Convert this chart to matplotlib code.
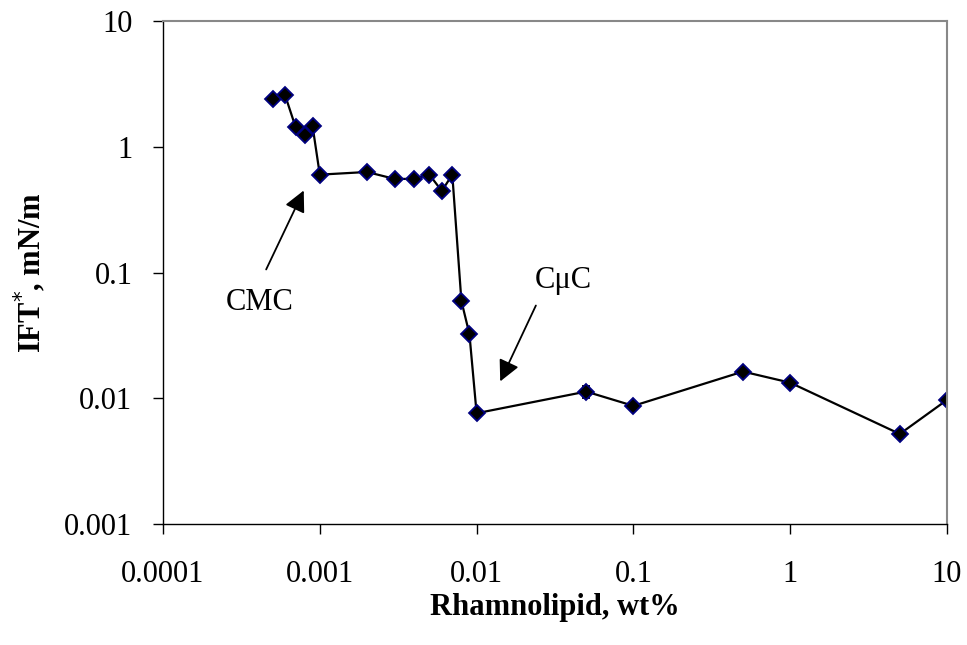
import matplotlib
matplotlib.use("Agg")
import matplotlib.pyplot as plt
from matplotlib.ticker import NullLocator

rhamnolipid = [0.0005, 0.0006, 0.0007, 0.0008, 0.0009, 0.001, 0.002, 0.003, 0.004,
               0.005, 0.006, 0.007, 0.008, 0.009, 0.01, 0.05, 0.1, 0.5, 1, 5, 10]
ift = [2.4, 2.58, 1.44, 1.24, 1.45, 0.6, 0.63, 0.555, 0.555,
       0.6, 0.445, 0.6, 0.0593, 0.0324, 0.0076, 0.0113, 0.0087, 0.0163, 0.0133, 0.0052, 0.0097]
ift_err = [0, 0, 0, 0, 0, 0, 0, 0, 0,
           0, 0, 0, 0, 0, 0, 0.0012, 0, 0, 0, 0, 0]

x_ticks = [0.0001, 0.001, 0.01, 0.1, 1, 10]
x_labels = ["0.0001", "0.001", "0.01", "0.1", "1", "10"]
y_ticks = [0.001, 0.01, 0.1, 1, 10]
y_labels = ["0.001", "0.01", "0.1", "1", "10"]

plt.rcParams["font.family"] = ["Liberation Serif", "DejaVu Serif"]

fig = plt.figure(figsize=(9.67, 6.45), dpi=100)
ax = fig.add_axes([163 / 967, 1 - 524 / 645, 784 / 967, 503 / 645])

ax.errorbar(rhamnolipid, ift, yerr=ift_err, color="black", lw=1.6,
            marker="D", ms=8.5, mfc="black", mec="#000080", mew=1.3,
            ecolor="black", elinewidth=1, capsize=3)

ax.set_xscale("log")
ax.set_yscale("log")
ax.set_xlim(0.0001, 10)
ax.set_ylim(0.001, 10)
ax.set_xticks(x_ticks)
ax.set_xticklabels(x_labels)
ax.set_yticks(y_ticks)
ax.set_yticklabels(y_labels)
ax.xaxis.set_minor_locator(NullLocator())
ax.yaxis.set_minor_locator(NullLocator())
ax.tick_params(labelsize=22, length=7, width=1, direction="out")
ax.tick_params(axis="x", pad=19)
ax.tick_params(axis="y", pad=15)

for side in ["top", "right"]:
    ax.spines[side].set_color("#888888")
    ax.spines[side].set_linewidth(1.5)
for side in ["left", "bottom"]:
    ax.spines[side].set_color("black")
    ax.spines[side].set_linewidth(1)

ax.set_xlabel("Rhamnolipid, wt%", fontsize=22, fontweight="bold", labelpad=3)
ax.set_ylabel("IFT$^{*}$, mN/m", fontsize=22, fontweight="bold", labelpad=12)

# annotation arrows
ax.annotate("", xy=(0.000804, 0.47), xytext=(0.000447, 0.101),
            arrowprops=dict(arrowstyle="-|>", color="black", lw=1.3, mutation_scale=32))
ax.text(0.000416, 0.0582, "CMC", fontsize=22, ha="center", va="center")
ax.annotate("", xy=(0.0139, 0.013), xytext=(0.0243, 0.0572),
            arrowprops=dict(arrowstyle="-|>", color="black", lw=1.3, mutation_scale=32))
ax.text(0.0356, 0.0856, "C\u03bcC", fontsize=22, ha="center", va="center")

fig.savefig("out.png", dpi=100)
